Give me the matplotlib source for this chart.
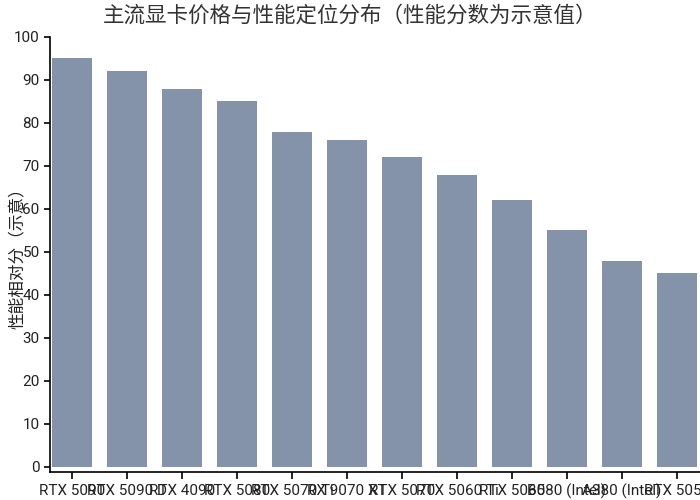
import matplotlib
matplotlib.use("Agg")
import matplotlib.pyplot as plt

plt.rcParams['font.family'] = ['Roboto', 'Noto Sans CJK SC', 'DejaVu Sans']

# 显卡型号与示意性能分
gpus = ["RTX 5090", "RTX 5090 D", "RTX 4090", "RTX 5080", "RTX 5070 Ti",
        "RX 9070 XT", "RTX 5070", "RTX 5060 Ti", "RTX 5060",
        "B580 (Intel)", "A380 (Intel)", "RTX 5050"]
scores = [95, 92, 88, 85, 78, 76, 72, 68, 62, 55, 48, 45]

fig = plt.figure(figsize=(7, 5), dpi=100)
ax = fig.add_axes([50 / 700, 1 - 472 / 500, 1 - 50 / 700, (472 - 37) / 500])

ax.bar(range(len(gpus)), scores, width=0.73, color="#8593aa")

ax.set_xlim(-0.4, 11.42)
ax.set_ylim(-1.2, 100)
ax.set_yticks(range(0, 101, 10))
ax.set_xticks(range(len(gpus)))
ax.set_xticklabels(gpus, fontsize=11, color="#222222")
ax.tick_params(axis="y", labelsize=11, labelcolor="#222222", length=4, width=1.2)
ax.tick_params(axis="x", length=5, width=1.2)

ax.spines["top"].set_visible(False)
ax.spines["right"].set_visible(False)
ax.spines["left"].set_linewidth(1.2)
ax.spines["bottom"].set_linewidth(1.2)

ax.set_ylabel("性能相对分（示意）", fontsize=12, color="#222222")
ax.yaxis.set_label_coords(-0.038, 0.5)
fig.suptitle("主流显卡价格与性能定位分布（性能分数为示意值）", fontsize=15.5,
             color="#333333", y=0.988)

fig.savefig("out.png", dpi=100)
plt.close(fig)
